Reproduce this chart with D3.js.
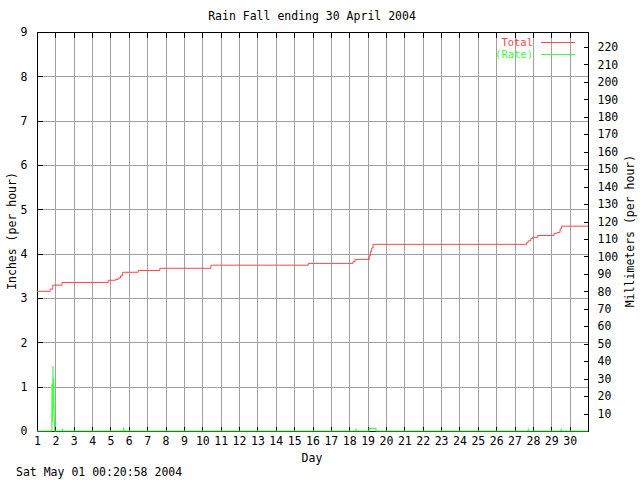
<!DOCTYPE html>
<html>
<head>
<meta charset="utf-8">
<script src="https://cdn.jsdelivr.net/npm/d3@7"></script>
<style>
html,body{margin:0;padding:0;background:#fff;}
svg{display:block;}
text{font-family:"DejaVu Sans Mono","Liberation Mono",monospace;font-size:11.5px;}
</style>
</head>
<body>
<script>
// ---- data ----
const title = "Rain Fall ending 30 April 2004";
const xLabel = "Day";
const yLabelLeft = "Inches (per hour)";
const yLabelRight = "Millimeters (per hour)";
const stamp = "Sat May 01 00:20:58 2004";
const dayTicks = d3.range(1, 31);            // 1..30
const inchTicks = d3.range(0, 10);           // 0..9
const mmTicks = d3.range(10, 221, 10);       // 10..220
const seriesNames = ["Total", "(Rate)"];

// Total rainfall (inches), step changes: day, value
const totalDays   = [1, 1.72, 1.86, 2.36, 4.88, 5.28, 5.42, 5.55, 5.66, 6.51, 7.69, 10.47, 15.77, 18.20, 18.31, 19.09, 19.15, 19.22, 19.30, 27.66, 27.74, 27.89, 27.98, 28.26, 29.15, 29.33, 29.48, 29.56, 31];
const totalInches = [3.15, 3.20, 3.29, 3.35, 3.40, 3.42, 3.45, 3.50, 3.58, 3.62, 3.67, 3.74, 3.78, 3.82, 3.87, 3.95, 4.05, 4.13, 4.21, 4.25, 4.29, 4.34, 4.37, 4.41, 4.46, 4.48, 4.56, 4.62, 4.62];

// Rain rate (inches per hour)
const rateDays   = [1, 1.81, 1.82, 1.84, 1.86, 1.87, 1.88, 1.90, 1.91, 1.93, 1.94, 1.96, 2.36, 2.38, 2.40, 5.70, 5.72, 5.74, 18.35, 18.37, 18.39, 19.08, 19.09, 19.45, 19.46, 27.73, 27.75, 27.77, 29.52, 29.54, 29.56, 31];
const rateInches = [0, 0, 1.07, 0.2, 0.9, 1.47, 0.5, 1.17, 1.19, 0.47, 0.3, 0, 0, 0.05, 0, 0, 0.07, 0, 0, 0.03, 0, 0, 0.06, 0.06, 0, 0, 0.03, 0, 0, 0.03, 0, 0];

// ---- layout ----
const W = 640, H = 480;
const L = 37, R = 588, T = 32, B = 431;
const red = "#ff4848", green = "#40ff40", gridC = "#a0a0a0";
const FONT = '"DejaVu Sans Mono",monospace';

const svg = d3.select("body").append("svg").attr("width", W).attr("height", H);

const x = d3.scaleLinear().domain([1, 31]).range([L, R]);
const y = d3.scaleLinear().domain([0, 9]).range([B, T]);
const yMM = d3.scaleLinear().domain([0, 9 * 25.4]).range([B, T]);

// grid
const grid = svg.append("g").attr("shape-rendering", "crispEdges").attr("stroke", gridC).attr("stroke-width", 1);
dayTicks.filter(d => d > 1).forEach(d => {
  grid.append("line").attr("x1", Math.round(x(d)) + 0.5).attr("x2", Math.round(x(d)) + 0.5).attr("y1", T).attr("y2", B);
});
inchTicks.filter(d => d > 0).forEach(d => {
  grid.append("line").attr("y1", Math.round(y(d)) + 0.5).attr("y2", Math.round(y(d)) + 0.5).attr("x1", L).attr("x2", R);
});

// axes (inward ticks)
const axB = svg.append("g").attr("transform", `translate(0,${B + 0.5})`)
  .call(d3.axisBottom(x).tickValues(dayTicks).tickSize(-5).tickPadding(5).tickFormat(d3.format("d")));
const axT = svg.append("g").attr("transform", `translate(0,${T + 0.5})`)
  .call(d3.axisTop(x).tickValues(dayTicks).tickSize(-5).tickFormat(""));
const axL = svg.append("g").attr("transform", `translate(${L + 0.5},0)`)
  .call(d3.axisLeft(y).tickValues(inchTicks).tickSize(-5).tickPadding(10).tickFormat(d3.format("d")));
const axR = svg.append("g").attr("transform", `translate(${R + 0.5},0)`)
  .call(d3.axisRight(yMM).tickValues(mmTicks).tickSize(-5).tickPadding(9).tickFormat(d3.format("d")));
[axB, axT, axL, axR].forEach(a => {
  a.select(".domain").remove();
  a.selectAll("line").attr("stroke", "#000").attr("shape-rendering", "crispEdges");
  a.selectAll("text").attr("fill", "#000").style("font-family", FONT).style("font-size", "11.5px");
});
axB.selectAll("text").attr("dy", "0.71em");
axR.selectAll("text").attr("text-anchor", "start");
axL.selectAll("text").attr("text-anchor", "end");

// frame
svg.append("rect").attr("x", L + 0.5).attr("y", T + 0.5).attr("width", R - L).attr("height", B - T)
  .attr("fill", "none").attr("stroke", "#000").attr("shape-rendering", "crispEdges");

// series
const totalLine = d3.line().x((d, i) => x(totalDays[i])).y(d => y(d)).curve(d3.curveStepAfter);
svg.append("path").datum(totalInches).attr("d", totalLine)
  .attr("fill", "none").attr("stroke", red).attr("stroke-width", 1);

const rateLine = d3.line().x((d, i) => x(rateDays[i])).y(d => y(d));
svg.append("path").datum(rateInches).attr("d", rateLine)
  .attr("fill", "none").attr("stroke", green).attr("stroke-width", 1.2);

// legend
const legend = [{name: seriesNames[0], c: red, y: 42}, {name: seriesNames[1], c: green, y: 54}];
legend.forEach(l => {
  svg.append("text").attr("x", 533).attr("y", l.y + 4).attr("text-anchor", "end").attr("fill", l.c)
    .style("font-size", "10.5px").text(l.name);
  svg.append("line").attr("x1", 541).attr("x2", 575).attr("y1", l.y + 0.5).attr("y2", l.y + 0.5)
    .attr("stroke", l.c).attr("shape-rendering", "crispEdges");
});

// texts
svg.append("text").attr("x", 312).attr("y", 20).attr("text-anchor", "middle").text(title);
svg.append("text").attr("x", 312).attr("y", 462).attr("text-anchor", "middle").text(xLabel);
svg.append("text").attr("x", 16).attr("y", 476).text(stamp);
svg.append("text").attr("transform", `translate(16,231) rotate(-90)`).attr("text-anchor", "middle").text(yLabelLeft);
svg.append("text").attr("transform", `translate(634,231) rotate(-90)`).attr("text-anchor", "middle").text(yLabelRight);
</script>
</body>
</html>
